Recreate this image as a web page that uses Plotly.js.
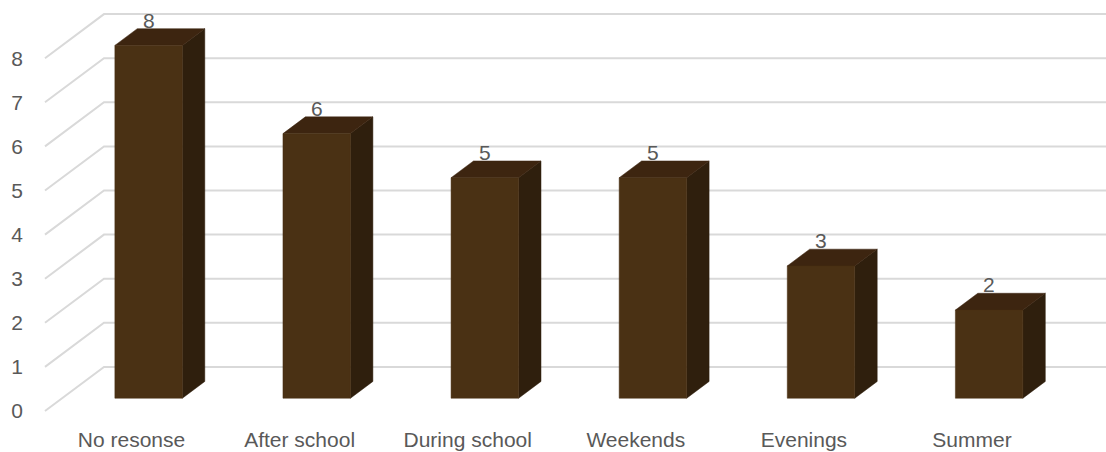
<!DOCTYPE html>
<html>
<head>
<meta charset="utf-8">
<script src="https://cdn.plot.ly/plotly-3.0.1.min.js"></script>
<style>html,body{margin:0;padding:0;background:#fff;}#chart{width:1106px;height:452px;}</style>
</head>
<body>
<div id="chart"></div>
<script>
// ---- data ----
const categories = ["No resonse", "After school", "During school", "Weekends", "Evenings", "Summer"];
const values = [8, 6, 5, 5, 3, 2];
const yTickValues = [0, 1, 2, 3, 4, 5, 6, 7, 8];
const yTickLabels = ["0", "1", "2", "3", "4", "5", "6", "7", "8"];

// ---- 3D look (style constants) ----
const DX = 0.351, DY = 1.0;        // full depth vector in data units
const F1 = 0.29, F2 = 0.67;        // bar front / back depth fractions
const BAR_W = 0.4016;
const GRID_X0 = -0.5146, GRID_X1 = 7;
const FRONT = '#4A3114', TOP = '#3D2510', SIDE = '#2F1F0D';
const GRID = '#D9D9D9', TXT = '#595959';
const FONT = 'Liberation Sans, Arial, sans-serif';

const idx = categories.map((c, i) => i);
const traces = [];

// perspective gridlines
const gx = [], gy = [];
yTickValues.forEach(v => {
  gx.push(GRID_X0, GRID_X0 + DX, GRID_X1, null);
  gy.push(v, v + DY, v + DY, null);
});
traces.push({type: 'scatter', mode: 'lines', x: gx, y: gy, line: {color: GRID, width: 2}, hoverinfo: 'skip', showlegend: false});

// bar faces
const fx = idx.map(i => i + F1 * DX);
const ddx = (F2 - F1) * DX, ddy = (F2 - F1) * DY;
const frx = [], fry = [], sx = [], sy = [], tx = [], ty = [];
idx.forEach(i => {
  const v = values[i];
  const xl = fx[i] - BAR_W / 2, xr = fx[i] + BAR_W / 2, b = F1 * DY, t = v + F1 * DY;
  frx.push(xl, xr, xr, xl, xl, null);
  fry.push(b, b, t, t, b, null);
  sx.push(xr, xr + ddx, xr + ddx, xr, xr, null);
  sy.push(b, b + ddy, t + ddy, t, b, null);
  tx.push(xl, xr, xr + ddx, xl + ddx, xl, null);
  ty.push(t, t, t + ddy, t + ddy, t, null);
});
[[sx, sy, SIDE], [tx, ty, TOP], [frx, fry, FRONT]].forEach(([x, y, c]) => {
  traces.push({type: 'scatter', mode: 'lines', x: x, y: y, fill: 'toself', fillcolor: c,
    line: {width: 0.5, color: c}, hoverinfo: 'skip', showlegend: false});
});

// data labels
const annotations = idx.map(i => ({
  x: fx[i], y: values[i] + F2 * DY, text: String(values[i]), showarrow: false,
  xanchor: 'center', yanchor: 'bottom', yshift: -5,
  font: {family: FONT, size: 21, color: TXT}
}));

const layout = {
  width: 1106, height: 452,
  margin: {l: 30, r: 0, t: 0, b: 32},
  paper_bgcolor: '#fff', plot_bgcolor: '#fff',
  showlegend: false,
  xaxis: {range: [-0.6038, 5.797], tickmode: 'array', tickvals: idx, ticktext: categories,
    showgrid: false, zeroline: false, showline: false, ticks: '', ticklabelstandoff: 5,
    tickfont: {family: FONT, size: 21, color: TXT}, fixedrange: true},
  yaxis: {range: [-0.204, 9.32], tickmode: 'array', tickvals: yTickValues, ticktext: yTickLabels,
    showgrid: false, zeroline: false, showline: false, ticks: '', ticklabelstandoff: 6,
    tickfont: {family: FONT, size: 21, color: TXT}, fixedrange: true},
  annotations: annotations
};

Plotly.newPlot('chart', traces, layout, {displayModeBar: false, staticPlot: true});
</script>
</body>
</html>
